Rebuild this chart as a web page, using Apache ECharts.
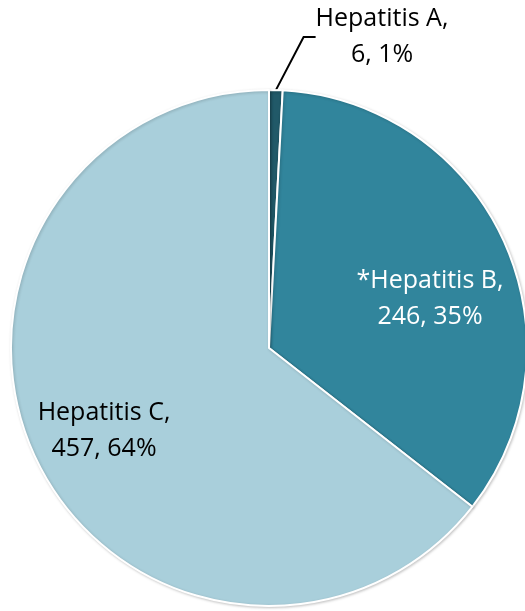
<!DOCTYPE html>
<html><head><meta charset="utf-8">
<script src="https://cdn.jsdelivr.net/npm/echarts@6/dist/echarts.min.js"></script>
<style>html,body{margin:0;padding:0;background:#fff}#c{width:525px;height:611px}</style>
</head><body><div id="c"></div>
<script>
const categories = ['Hepatitis A', '*Hepatitis B', 'Hepatitis C'];
const values = [6, 246, 457];
const percents = ['1%', '35%', '64%'];
const colors = ['#215968', '#31859c', '#a9cfdb'];
const labelColors = ['#000000', '#ffffff', '#000000'];

const chart = echarts.init(document.getElementById('c'));
const data = categories.map((n, i) => ({
  name: n, value: values[i],
  itemStyle: { color: colors[i] },
  label: {
    position: i === 0 ? 'outside' : 'inside',
    color: labelColors[i]
  },
  labelLine: { show: i === 0 }
}));
chart.setOption({
  animation: false,
  series: [{
    type: 'pie',
    center: [269, 348],
    radius: 258,
    startAngle: 90,
    clockwise: true,
    data: data,
    itemStyle: { borderColor: '#ffffff', borderWidth: 2, shadowColor: 'rgba(0,0,0,0.2)', shadowBlur: 3, shadowOffsetX: 1, shadowOffsetY: 1 },
    label: {
      fontFamily: 'Open Sans', fontSize: 25, lineHeight: 36, align: 'center',
      formatter: p => p.name + ',\n' + p.value + ', ' + percents[p.dataIndex]
    },
    labelLine: { lineStyle: { color: '#000', width: 2 }, length: 40, length2: 12 },
    labelLayout: p => {
      if (p.dataIndex === 0) return { x: 382, y: 37, align: 'center', verticalAlign: 'middle' };
      if (p.dataIndex === 1) return { x: 430, y: 299, align: 'center', verticalAlign: 'middle' };
      return { x: 104, y: 431, align: 'center', verticalAlign: 'middle' };
    }
  }]
});
</script></body></html>
